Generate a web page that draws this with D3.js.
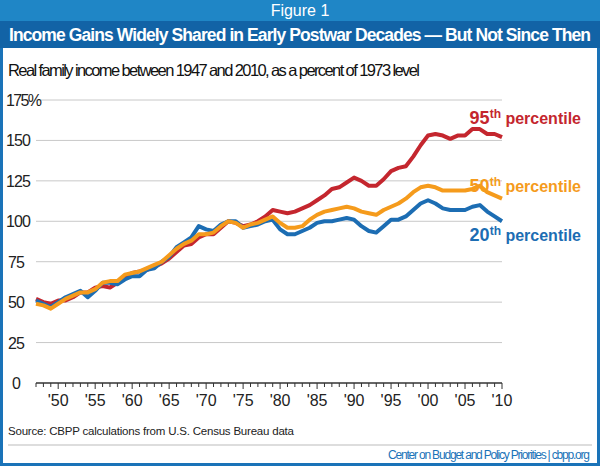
<!DOCTYPE html>
<html><head><meta charset="utf-8">
<script src="https://cdn.jsdelivr.net/npm/d3@7"></script>
<style>
body{margin:0;background:#fff}
svg{display:block;font-family:"Liberation Sans Narrow","Arial Narrow",sans-serif}
</style></head><body>
<svg id="chart" width="600" height="466"></svg>
<script>
const years = d3.range(1947, 2011);
const p20 = [51,49,47,50,53,55,57,53,57,62, 62,61,64,66,66,70,71,75,78,84, 87,90,97,95,94,98,100,100,96,97,
  98,100,101,95,92,92,94,96,99,100, 100,101,102,101,97,94,93,97,101,101, 103,107,111,113,111,108,107,107,107,109, 110,106,103,100];
const p50 = [49,48,46,49,52,54,56,56,58,62, 63,63,67,68,69,71,73,75,79,83, 86,88,92,92,93,97,100,99,96,98,
  99,101,103,99,96,96,97,101,104,106, 107,108,109,108,106,105,104,107,109,111, 114,118,121,122,121,119,119,119,119,120, 122,118,116,114];
const p95 = [52,50,49,51,51,53,56,56,59,60,59,62,65,68,69,70,72,74,77,81,85,86,90,92,92,96,
  100,99,97,98,100,103,107,106,105,106,108,110,113,116,120,121,124,127,125,122,122,126,131,133,134,140,147,153,154,153,151,153,153,157,157,154,154,152];
const yTicks = [0,25,50,75,100,125,150,175];
const xLabels = [1950,1955,1960,1965,1970,1975,1980,1985,1990,1995,2000,2005,2010];
const series = [
  {name:"95", vals:p95, color:"#c4262e", ly:124},
  {name:"50", vals:p50, color:"#f59b1c", ly:192},
  {name:"20", vals:p20, color:"#1c6db3", ly:241}
];

const svg = d3.select("#chart");
const blue = "#1a73b8";
svg.append("rect").attr("x",1.5).attr("y",1.5).attr("width",597).attr("height",463)
  .attr("fill","#fff").attr("stroke",blue).attr("stroke-width",3);
svg.append("rect").attr("x",0).attr("y",0).attr("width",600).attr("height",21).attr("fill","#1f86c6");
svg.append("rect").attr("x",0).attr("y",21).attr("width",600).attr("height",27).attr("fill","#1263a6");
svg.append("text").attr("x",300).attr("y",16).attr("text-anchor","middle").attr("fill","#fff")
  .attr("font-size",16).text("Figure 1");
svg.append("text").attr("x",300).attr("y",41).attr("text-anchor","middle").attr("fill","#fff")
  .attr("font-size",17.5).attr("font-weight","bold").attr("textLength",582)
  .text("Income Gains Widely Shared in Early Postwar Decades \u2014 But Not Since Then");
svg.append("text").attr("x",8).attr("y",76).attr("fill","#111").attr("font-size",16.5)
  .attr("textLength",412).text("Real family income between 1947 and 2010, as a percent of 1973 level");

const x = d3.scaleLinear().domain([1947,2010]).range([36,502]);
const y = d3.scaleLinear().domain([0,175]).range([383,100]);

svg.append("g").selectAll("line").data(yTicks.filter(d=>d>0)).join("line")
  .attr("x1",36).attr("x2",502).attr("y1",d=>y(d)).attr("y2",d=>y(d))
  .attr("stroke","#c8c8c8").attr("stroke-width",1);
svg.append("g").selectAll("text").data(yTicks).join("text")
  .attr("x",d=>d===175?6:(d>=100?6:(d===0?12:8))).attr("y",d=>y(d)+6)
  .attr("font-size",16).attr("fill","#222").attr("textLength",d=>d===175?36:(d>=100?25:(d===0?9:17)))
  .text(d=>d===175?"175%":d);

svg.append("line").attr("x1",36).attr("x2",502).attr("y1",y(0)).attr("y2",y(0))
  .attr("stroke","#333").attr("stroke-width",1.5);
svg.append("g").selectAll("line").data(years).join("line")
  .attr("x1",d=>x(d)).attr("x2",d=>x(d)).attr("y1",y(0)).attr("y2",d=>y(0)+(d%5===0?6:4))
  .attr("stroke","#333").attr("stroke-width",1);
svg.append("g").selectAll("text").data(xLabels).join("text")
  .attr("x",d=>x(d)).attr("y",y(0)+23).attr("text-anchor","middle")
  .attr("font-size",16).attr("fill","#222").text(d=>"'"+String(d).slice(2));

const line = d3.line().x((d,i)=>x(years[i])).y(d=>y(d));
[series[0], series[2], series[1]].forEach(s=>{
  svg.append("path").attr("d",line(s.vals)).attr("fill","none")
    .attr("stroke",s.color).attr("stroke-width",4).attr("stroke-linejoin","round");
});
series.forEach(s=>{
  const t = svg.append("text").attr("x",581).attr("y",s.ly).attr("text-anchor","end")
    .attr("fill",s.color).attr("font-size",18).attr("font-weight",600);
  t.append("tspan").text(s.name);
  t.append("tspan").attr("dy",-6).attr("font-size",12).text("th");
  t.append("tspan").attr("dy",6).attr("font-size",16).text(" percentile");
});

svg.append("text").attr("x",8).attr("y",435).attr("font-size",11.5).attr("fill","#222")
  .attr("textLength",286).text("Source: CBPP calculations from U.S. Census Bureau data");
svg.append("line").attr("x1",8).attr("x2",592).attr("y1",445).attr("y2",445).attr("stroke","#bbb");
svg.append("text").attr("x",590).attr("y",459).attr("text-anchor","end").attr("font-size",12)
  .attr("fill",blue).attr("textLength",202).text("Center on Budget and Policy Priorities | cbpp.org");
</script>
</body></html>
